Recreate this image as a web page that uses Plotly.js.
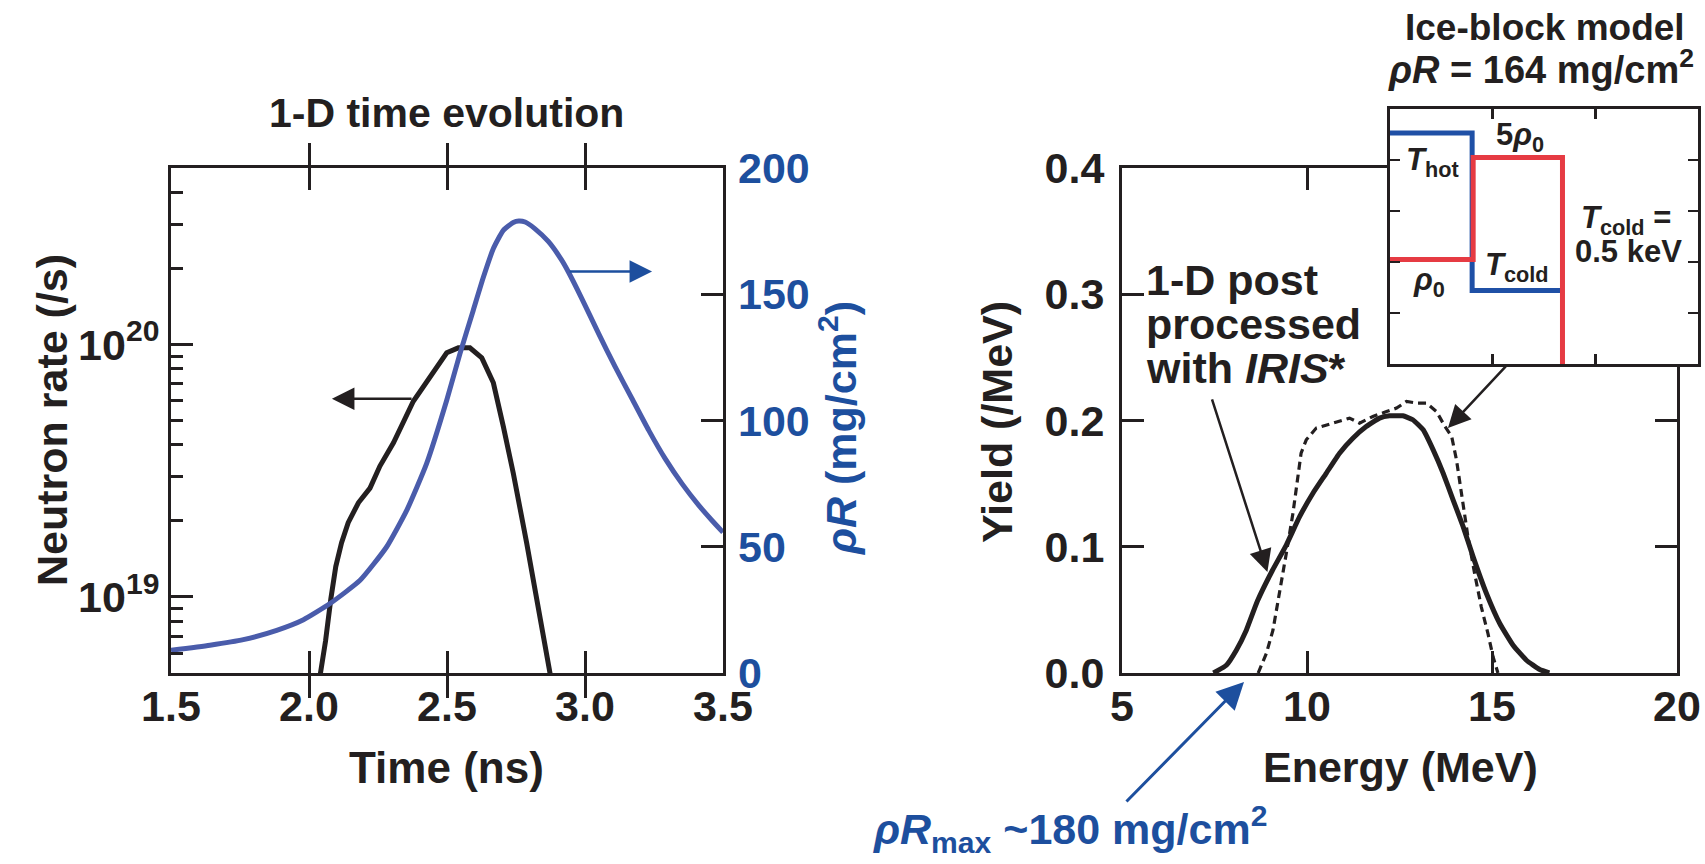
<!DOCTYPE html>
<html>
<head>
<meta charset="utf-8">
<script src="https://cdn.plot.ly/plotly-3.0.1.min.js"></script>
<style>
  html, body { margin: 0; padding: 0; background: #ffffff; }
  #chart { width: 1705px; height: 864px; }
</style>
</head>
<body>
<div id="chart"></div>
<script>
// ---------- Left panel: 1-D time evolution ----------
const timeNeutron = [2.035, 2.06, 2.079, 2.097, 2.118, 2.142, 2.179, 2.221, 2.257, 2.306, 2.378,
  2.45, 2.499, 2.541, 2.583, 2.626, 2.668, 2.704, 2.74, 2.789, 2.837, 2.876];
const neutronRate = [4.5e18, 6.7e18, 9.8e18, 1.32e19, 1.64e19, 1.97e19, 2.36e19, 2.7e19, 3.3e19, 4.08e19, 5.96e19,
  7.84e19, 9.27e19, 9.7e19, 9.7e19, 8.85e19, 7.05e19, 4.74e19, 3.1e19, 1.63e19, 8.6e18, 4.8e18];

const timeRhoR = [1.5, 1.641, 1.762, 1.883, 1.98, 2.076, 2.185, 2.281, 2.354, 2.426, 2.499, 2.547,
  2.595, 2.632, 2.668, 2.704, 2.74, 2.76, 2.783, 2.818, 2.867, 2.915, 2.939, 2.988, 3.049, 3.109,
  3.17, 3.231, 3.291, 3.352, 3.413, 3.461, 3.5];
const rhoR = [9.0, 11.0, 13.2, 16.9, 21.1, 27.5, 36.7, 49.9, 64.4, 82.9, 108, 126.5,
  143.6, 156.8, 168.1, 175.3, 178.4, 179.0, 178.6, 176.0, 170.9, 163.6, 159.0, 148.4, 134.5, 121.3,
  108.7, 96.1, 84.8, 74.9, 66.3, 60.3, 55.7];

const timeTicks = [1.5, 2.0, 2.5, 3.0, 3.5];
const rateTicks = [1e19, 1e20];
const rateTickText = ['10<sup>19</sup>', '10<sup>20</sup>'];
const rateMinorTicks = [6e18, 7e18, 8e18, 9e18, 2e19, 3e19, 4e19, 5e19, 6e19, 7e19, 8e19, 9e19, 2e20, 3e20, 4e20];
const rhoRTicks = [0, 50, 100, 150, 200];

// ---------- Right panel: neutron spectra ----------
const energy1D = [7.47, 7.82, 8.09, 8.36, 8.66, 9.06, 9.44, 9.80, 10.16, 10.52, 10.88, 11.24, 11.60,
  11.96, 12.23, 12.59, 12.86, 13.14, 13.41, 13.68, 13.95, 14.22, 14.49, 14.85, 15.21, 15.57, 15.93, 16.29, 16.55];
const yield1D = [0, 0.0061, 0.018, 0.0339, 0.057, 0.081, 0.1013, 0.1238, 0.1424, 0.1582, 0.1741, 0.186, 0.1952,
  0.2019, 0.2037, 0.2037, 0.2006, 0.1926, 0.1767, 0.1582, 0.137, 0.1159, 0.092, 0.063, 0.0392, 0.022, 0.0101, 0.0027, 0];

const energyIce = [8.68, 8.90, 9.08, 9.26, 9.44, 9.62, 9.75, 9.84, 9.98, 10.25, 10.70, 11.15, 11.42, 11.78,
  12.15, 12.42, 12.69, 12.96, 13.23, 13.50, 13.73, 13.91, 14.04, 14.18, 14.35, 14.53, 14.71, 14.89, 15.03, 15.16];
const yieldIce = [0, 0.0154, 0.0339, 0.063, 0.0947, 0.1265, 0.153, 0.1741, 0.1847, 0.194, 0.1979, 0.2019, 0.1979, 0.2032,
  0.2071, 0.2098, 0.2151, 0.2138, 0.2138, 0.2071, 0.1952, 0.1873, 0.1688, 0.1424, 0.1079, 0.0789, 0.0524, 0.0313, 0.0127, 0];

const energyTicks = [5, 10, 15, 20];
const yieldTicks = [0, 0.1, 0.2, 0.3, 0.4];

// ---------- Inset: ice-block model profiles (radius vs. level) ----------
const profileTempR = [0, 0.80, 0.80, 1.66];
const profileTemp = [4.53, 4.53, 1.44, 1.44];
const profileDensR = [0, 0.81, 0.81, 1.68, 1.68];
const profileDens = [2.05, 2.05, 4.05, 4.05, 0];

// ---------- styling ----------
const W = 1705, H = 864;
const fx = p => p / W;          // pixel column -> paper x
const fy = p => 1 - p / H;      // pixel row -> paper y
const FONT = 'Liberation Sans, Arial, Helvetica, sans-serif';
const INK = '#231f20';
const BLUE_TXT = '#1d4f9e';
const BLUE_LINE = '#4a5cab';
const INSET_BLUE = '#1f50a6';
const INSET_RED = '#e63b43';

const tickFont = (color) => ({ family: FONT, size: 43, color: color || INK, weight: 'bold' });

const frameAxis = {
  showline: true, linewidth: 3, linecolor: INK,
  ticks: 'inside', ticklen: 22, tickwidth: 3, tickcolor: INK,
  showgrid: false, zeroline: false, fixedrange: true
};

const traces = [
  { x: timeNeutron, y: neutronRate, xaxis: 'x', yaxis: 'y', mode: 'lines',
    line: { color: INK, width: 5 }, hoverinfo: 'skip', showlegend: false },
  { x: timeRhoR, y: rhoR, xaxis: 'x', yaxis: 'y2', mode: 'lines',
    line: { color: BLUE_LINE, width: 5, shape: 'spline', smoothing: 0.5 }, hoverinfo: 'skip', showlegend: false },
  { x: energy1D, y: yield1D, xaxis: 'x2', yaxis: 'y3', mode: 'lines',
    line: { color: INK, width: 5, shape: 'spline', smoothing: 0.4 }, hoverinfo: 'skip', showlegend: false },
  { x: energyIce, y: yieldIce, xaxis: 'x2', yaxis: 'y3', mode: 'lines',
    line: { color: INK, width: 3.2, dash: '8px,5px' }, hoverinfo: 'skip', showlegend: false },
  { x: profileTempR, y: profileTemp, xaxis: 'x3', yaxis: 'y4', mode: 'lines',
    line: { color: INSET_BLUE, width: 5 }, hoverinfo: 'skip', showlegend: false },
  { x: profileDensR, y: profileDens, xaxis: 'x3', yaxis: 'y4', mode: 'lines',
    line: { color: INSET_RED, width: 5 }, hoverinfo: 'skip', showlegend: false }
];

const ann = (text, x, y, size, extra) => Object.assign({
  text: text, x: fx(x), y: fy(y), xref: 'paper', yref: 'paper',
  showarrow: false, xanchor: 'center', yanchor: 'middle',
  font: { family: FONT, size: size, color: INK, weight: 'bold' }
}, extra || {});

const arrow = (opts, color, width) => Object.assign({
  text: '', showarrow: true, arrowhead: 2, arrowsize: 1.8, arrowwidth: width || 2.5,
  arrowcolor: color || INK, standoff: 0, startstandoff: 0
}, opts);

const annotations = [
  ann('1-D time evolution', 446, 113, 41),
  ann('Time (ns)', 447, 767, 44),
  ann('Neutron rate (/s)', 52, 420, 43, { textangle: -90 }),
  ann('<i>ρR</i> (mg/cm<sup>2</sup>)', 838, 428, 43,
      { textangle: -90, font: { family: FONT, size: 43, color: BLUE_TXT, weight: 'bold' } }),
  ann('Energy (MeV)', 1400, 767, 43),
  ann('Yield (/MeV)', 997, 422, 43, { textangle: -90 }),
  ann('Ice-block model', 1545, 27, 37),
  ann('<i>ρR</i> = 164 mg/cm<sup>2</sup>', 1541, 67, 38),
  ann('1-D post', 1144, 280, 43, { xanchor: 'left' }),
  ann('processed', 1144, 324, 43, { xanchor: 'left' }),
  ann('with <i>IRIS</i>*', 1144, 368, 43, { xanchor: 'left' }),
  ann('5<i>ρ</i><sub>0</sub>', 1520, 137, 31),
  ann('<i>T</i><sub>hot</sub>', 1432, 162, 31),
  ann('<i>ρ</i><sub>0</sub>', 1429, 282, 31),
  ann('<i>T</i><sub>cold</sub>', 1517, 267, 31),
  ann('<i>T</i><sub>cold</sub> =', 1626, 220, 31),
  ann('0.5 keV', 1628, 251, 31),
  ann('<i>ρR</i><sub>max</sub> ~180 mg/cm<sup>2</sup>', 1070, 829, 43,
      { font: { family: FONT, size: 43, color: BLUE_TXT, weight: 'bold' } }),

  // arrows pointing to the axis each curve belongs to
  arrow({ xref: 'x', yref: 'y', axref: 'x', ayref: 'y',
          x: 2.083, y: Math.log10(6.1e19), ax: 2.377, ay: Math.log10(6.1e19) }),
  arrow({ xref: 'x', yref: 'y2', axref: 'x', ayref: 'y2',
          x: 3.243, y: 159, ax: 2.939, ay: 159 }, BLUE_TXT),
  // callouts on the spectra
  arrow({ xref: 'x2', yref: 'y3', axref: 'x2', ayref: 'y3',
          x: 8.93, y: 0.080, ax: 7.42, ay: 0.218 }),
  arrow({ xref: 'x2', yref: 'y3', axref: 'x2', ayref: 'y3',
          x: 13.81, y: 0.194, ax: 15.41, ay: 0.244 }),
  arrow({ xref: 'paper', yref: 'paper', axref: 'pixel', ayref: 'pixel',
          x: fx(1244), y: fy(682), ax: -119, ay: 121 }, BLUE_TXT, 3)
];

const layout = {
  width: W, height: H,
  margin: { l: 0, r: 0, t: 0, b: 0, pad: 0 },
  paper_bgcolor: '#ffffff',
  plot_bgcolor: '#ffffff',
  showlegend: false,
  font: { family: FONT, color: INK },

  xaxis: Object.assign({}, frameAxis, {
    domain: [fx(171), fx(723)], anchor: 'y', range: [1.5, 3.5],
    tickmode: 'array', tickvals: timeTicks, tickformat: '.1f',
    mirror: 'allticks', tickfont: tickFont(), ticklabelstandoff: -7
  }),
  yaxis: Object.assign({}, frameAxis, {
    domain: [fy(673), fy(168)], anchor: 'x', type: 'log',
    range: [Math.log10(5e18), Math.log10(5e20)],
    tickmode: 'array', tickvals: rateTicks, ticktext: rateTickText,
    minor: { tickmode: 'array', tickvals: rateMinorTicks, ticks: 'inside', ticklen: 12, tickwidth: 3, tickcolor: INK },
    mirror: true, tickfont: tickFont(), ticklabelstandoff: 0
  }),
  yaxis2: Object.assign({}, frameAxis, {
    overlaying: 'y', side: 'right', anchor: 'x', range: [0, 200],
    tickmode: 'array', tickvals: rhoRTicks, showline: false,
    tickfont: tickFont(BLUE_TXT), ticklabelstandoff: 14
  }),

  xaxis2: Object.assign({}, frameAxis, {
    domain: [fx(1122), fx(1677)], anchor: 'y3', range: [5, 20],
    tickmode: 'array', tickvals: energyTicks,
    mirror: 'allticks', tickfont: tickFont(), ticklabelstandoff: -7
  }),
  yaxis3: Object.assign({}, frameAxis, {
    domain: [fy(673), fy(168)], anchor: 'x2', range: [0, 0.4],
    tickmode: 'array', tickvals: yieldTicks, tickformat: '.1f',
    mirror: 'allticks', tickfont: tickFont(), ticklabelstandoff: 6
  }),

  xaxis3: Object.assign({}, frameAxis, {
    domain: [fx(1390), fx(1698)], anchor: 'y4', range: [0, 3],
    tickmode: 'array', tickvals: [1, 2], showticklabels: false,
    ticklen: 10, tickwidth: 2.5, mirror: 'allticks'
  }),
  yaxis4: Object.assign({}, frameAxis, {
    domain: [fy(364), fy(109)], anchor: 'x3', range: [0, 5],
    tickmode: 'array', tickvals: [1, 2, 3, 4], showticklabels: false,
    ticklen: 10, tickwidth: 2.5, mirror: 'allticks'
  }),

  annotations: annotations
};

Plotly.newPlot('chart', traces, layout, { staticPlot: true, displayModeBar: false });
</script>
</body>
</html>
